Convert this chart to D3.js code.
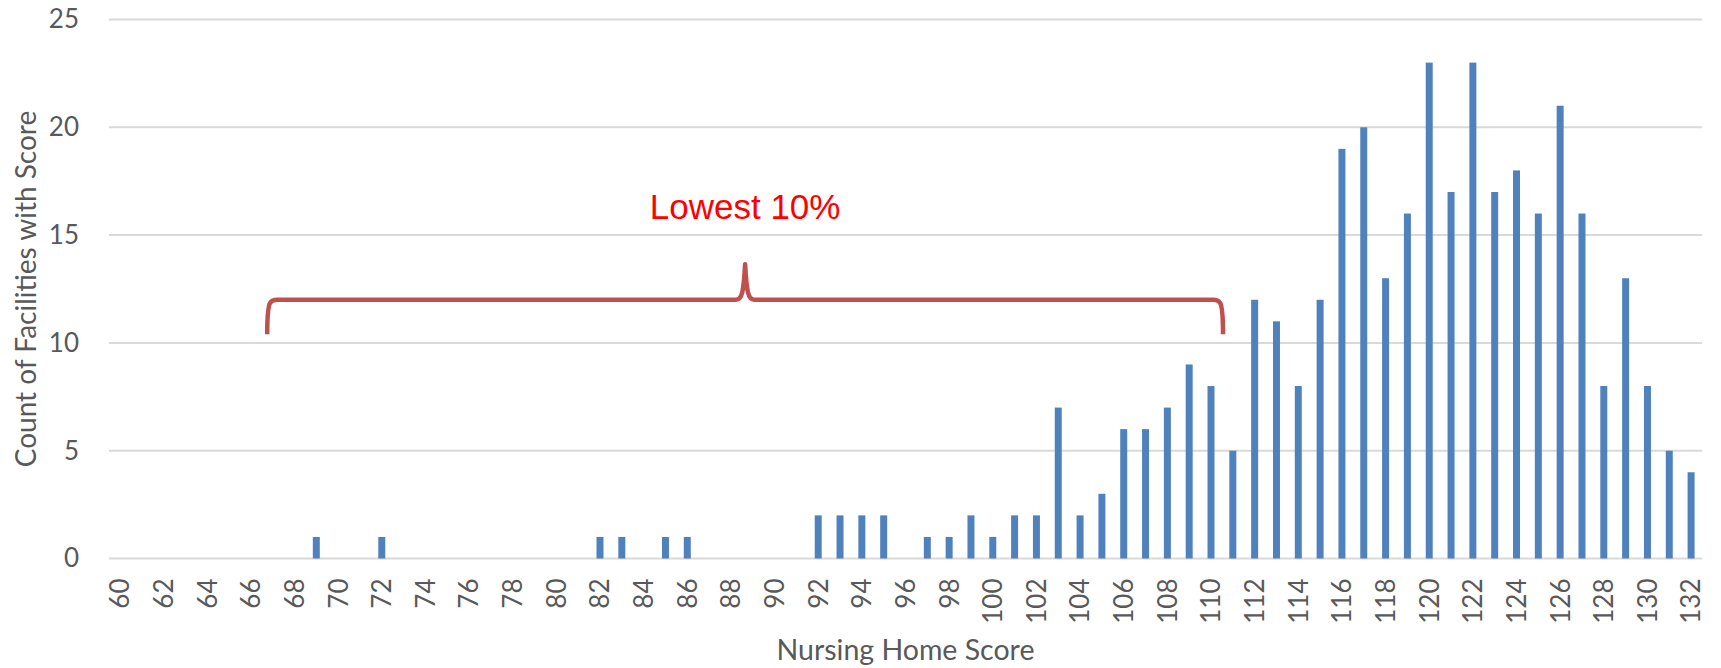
<!DOCTYPE html>
<html>
<head>
<meta charset="utf-8">
<script src="https://cdn.jsdelivr.net/npm/d3@7"></script>
<style>
  html, body { margin: 0; padding: 0; background: #ffffff; }
  svg { display: block; }
</style>
</head>
<body>
<svg id="chart" width="1721" height="668"></svg>
<script>
// ---- data ----
const scores = d3.range(60, 133); // 60 .. 132
const counts = [
  0, 0, 0, 0, 0, 0, 0, 0, 0, 1,   // 60-69
  0, 0, 1, 0, 0, 0, 0, 0, 0, 0,   // 70-79
  0, 0, 1, 1, 0, 1, 1, 0, 0, 0,   // 80-89
  0, 0, 2, 2, 2, 2, 0, 1, 1, 2,   // 90-99
  1, 2, 2, 7, 2, 3, 6, 6, 7, 9,   // 100-109
  8, 5, 12, 11, 8, 12, 19, 20, 13, 16, // 110-119
  23, 17, 23, 17, 18, 16, 21, 16, 8, 13, // 120-129
  8, 5, 4                          // 130-132
];
const xTickLabels = scores.filter(s => s % 2 === 0);
const yTicks = [0, 5, 10, 15, 20, 25];
const xTitle = "Nursing Home Score";
const yTitle = "Count of Facilities with Score";
const annotationText = "Lowest 10%";
// bracket annotation span, in score / count units
const bracketFrom = 66.75, bracketTo = 110.55, bracketLevel = 12, bracketFoot = 10.4, bracketTip = 13.65, labelLevel = 15.75;

// ---- layout ----
const svg = d3.select("#chart");
const mLeft = 109, mRight = 1702, mTop = 19.5, mBottom = 558.5;
const fontAxis = "Lato, 'Open Sans', sans-serif";
const grey = "#595959";

const x = d3.scaleBand().domain(scores).range([mLeft, mRight]).paddingInner(0.68).paddingOuter(0.34);
const xLin = d3.scaleLinear().domain([59.5, 132.5]).range([mLeft, mRight]);
const y = d3.scaleLinear().domain([0, 25]).range([mBottom, mTop]);

// gridlines
svg.append("g").selectAll("line").data(yTicks).join("line")
  .attr("x1", mLeft).attr("x2", mRight)
  .attr("y1", d => y(d)).attr("y2", d => y(d))
  .attr("stroke", "#d9d9d9").attr("stroke-width", 2);

// y axis labels
const yAxis = svg.append("g").attr("transform", `translate(${mLeft},0)`)
  .call(d3.axisLeft(y).tickValues(yTicks).tickSize(0).tickPadding(30));
yAxis.select(".domain").remove();
yAxis.selectAll("text").attr("font-family", fontAxis).attr("font-size", 26).attr("fill", grey);

// bars
const data = scores.map((s, i) => ({ s, v: counts[i] }));
svg.append("g").selectAll("rect").data(data.filter(d => d.v > 0)).join("rect")
  .attr("x", d => x(d.s)).attr("width", x.bandwidth())
  .attr("y", d => y(d.v)).attr("height", d => y(0) - y(d.v))
  .attr("fill", "#4f81bd");

// x axis labels
const xAxis = svg.append("g").attr("transform", `translate(0,${mBottom})`)
  .call(d3.axisBottom(x).tickValues(xTickLabels).tickSize(0).tickPadding(0));
xAxis.select(".domain").remove();
xAxis.selectAll("text")
  .attr("font-family", fontAxis).attr("font-size", 26).attr("fill", grey)
  .attr("text-anchor", "end")
  .attr("transform", "translate(0,20) rotate(-90)")
  .attr("x", 0).attr("y", 0).attr("dy", "0.36em");

// axis titles
svg.append("text")
  .attr("x", (mLeft + mRight) / 2).attr("y", 660)
  .attr("text-anchor", "middle")
  .attr("font-family", fontAxis).attr("font-size", 28.5).attr("fill", grey)
  .text(xTitle);
svg.append("text")
  .attr("transform", `translate(36,${(mTop + mBottom) / 2}) rotate(-90)`)
  .attr("text-anchor", "middle")
  .attr("font-family", fontAxis).attr("font-size", 28).attr("fill", grey)
  .text(yTitle);

// bracket annotation
const xl = xLin(bracketFrom), xr = xLin(bracketTo), xm = (xl + xr) / 2;
const yb = y(bracketLevel), ye = y(bracketFoot), yt = y(bracketTip);
const p = d3.path();
p.moveTo(xl, ye);
p.bezierCurveTo(xl, yb + 14, xl + 1, yb + 6, xl + 3, yb + 3);
p.quadraticCurveTo(xl + 5, yb, xl + 10, yb);
p.lineTo(xm - 9, yb);
p.bezierCurveTo(xm - 3, yb, xm - 1.5, yb - 8, xm, yt);
p.bezierCurveTo(xm + 1.5, yb - 8, xm + 3, yb, xm + 9, yb);
p.lineTo(xr - 10, yb);
p.quadraticCurveTo(xr - 5, yb, xr - 3, yb + 3);
p.bezierCurveTo(xr - 1, yb + 6, xr, yb + 14, xr, ye);
svg.append("path").attr("d", p.toString())
  .attr("fill", "none").attr("stroke", "#c0504d").attr("stroke-width", 4.5)
  .attr("stroke-linejoin", "round");

svg.append("text")
  .attr("x", xm).attr("y", y(labelLevel))
  .attr("text-anchor", "middle")
  .attr("font-family", "'Liberation Sans', Arial, sans-serif").attr("font-size", 35)
  .attr("fill", "#ff0000")
  .text(annotationText);
</script>
</body>
</html>
